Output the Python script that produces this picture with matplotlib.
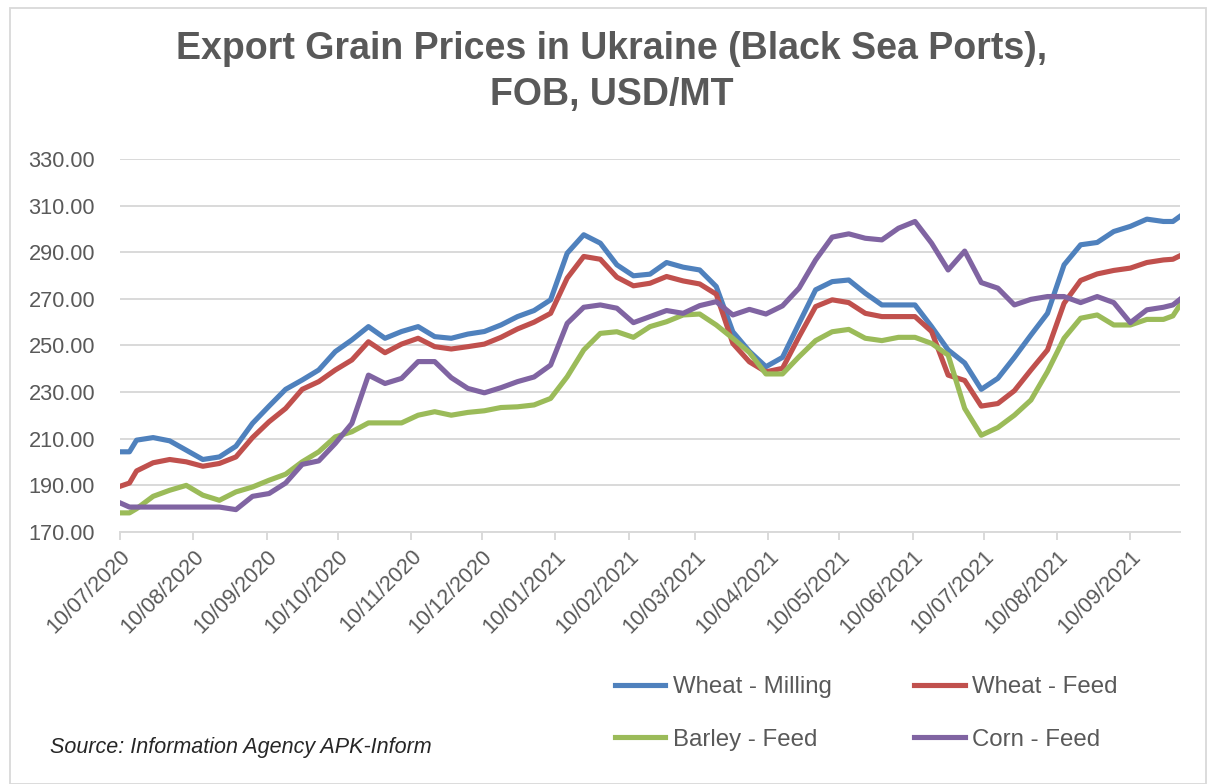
import pandas as pd
import numpy as np
import matplotlib
matplotlib.use('Agg')
import matplotlib.pyplot as plt
import matplotlib.dates as mdates
from matplotlib.patches import Rectangle

plt.rcParams['font.family'] = ['Liberation Sans', 'DejaVu Sans']

# Dates of the price quotes (weekly, plus two mid-week quotes)
dates = (['2020-07-10', '2020-07-14']
         + list(pd.date_range('2020-07-17', '2021-09-24', freq='7D').strftime('%Y-%m-%d'))
         + ['2021-09-28', '2021-10-01'])
dates = pd.to_datetime(dates)

wheat_milling = [204.4, 204.4,
                 209.4, 210.5, 209.1, 205.1, 201.1, 202.2, 206.8, 216.6, 224.0, 231.2, 235.2, 239.5,
                 247.4, 252.4, 258.1, 253.1, 256.0, 258.1, 253.8, 253.1, 254.9, 256.0, 258.8, 262.4, 265.0,
                 269.6, 289.6, 297.5, 293.9, 284.6, 279.9, 280.6, 285.6, 283.6, 282.4, 275.3, 255.9, 247.5,
                 240.9, 244.9, 259.5, 273.9, 277.4, 278.1, 272.4, 267.4, 267.4, 267.4, 258.1, 248.1, 242.5,
                 231.2, 235.9, 244.9, 254.5, 263.8, 284.6, 293.2, 294.2, 298.9, 301.1, 304.2, 303.2,
                 303.2, 305.4]
wheat_feed = [189.6, 191.0,
              196.2, 199.7, 201.1, 200.1, 198.2, 199.4, 202.2, 210.5, 217.3, 223.0, 231.2, 234.5,
              239.5, 243.8, 251.6, 246.9, 250.6, 253.1, 249.5, 248.5, 249.5, 250.6, 253.5, 257.1, 260.0,
              263.8, 278.9, 288.2, 287.0, 279.3, 275.6, 276.7, 279.6, 277.7, 276.4, 272.0, 250.9, 243.0,
              238.7, 240.2, 253.8, 266.7, 269.6, 268.4, 263.8, 262.4, 262.4, 262.4, 256.0, 237.3, 235.0,
              224.0, 225.1, 230.6, 239.5, 248.1, 268.1, 277.9, 280.7, 282.2, 283.2, 285.6, 286.7,
              287.0, 288.5]
barley_feed = [178.2, 178.2,
               180.0, 185.3, 187.9, 190.0, 185.8, 183.6, 187.2, 189.3, 192.2, 194.8, 200.1, 204.4,
               210.8, 213.0, 216.8, 216.8, 216.8, 220.1, 221.6, 220.1, 221.3, 222.0, 223.4, 223.7, 224.5,
               227.3, 236.6, 248.1, 255.2, 255.9, 253.5, 258.1, 260.2, 263.1, 263.5, 258.8, 253.1, 247.0,
               237.8, 237.8, 245.2, 252.1, 255.9, 256.9, 253.1, 252.1, 253.5, 253.5, 250.9, 245.9, 223.0,
               211.5, 214.8, 220.1, 226.6, 238.8, 253.1, 261.7, 263.1, 258.8, 258.8, 261.2, 261.2,
               262.7, 267.4]
corn_feed = [182.5, 180.7,
             180.7, 180.7, 180.7, 180.7, 180.7, 180.7, 179.6, 185.3, 186.5, 191.0, 199.0, 200.5,
             208.0, 216.6, 237.3, 233.7, 235.9, 243.1, 243.1, 236.2, 231.6, 229.7, 231.9, 234.5, 236.5,
             241.6, 259.5, 266.4, 267.4, 266.0, 259.8, 262.4, 265.0, 263.8, 267.1, 268.8, 263.1, 265.5,
             263.5, 267.0, 274.6, 286.7, 296.5, 297.9, 296.0, 295.3, 300.3, 303.2, 293.9, 282.4, 290.5,
             277.0, 274.6, 267.4, 269.8, 271.0, 271.0, 268.4, 271.0, 268.4, 259.8, 265.3, 266.4,
             267.4, 269.8]

series = [('Wheat - Milling', wheat_milling, '#4F81BD'),
          ('Wheat - Feed', wheat_feed, '#C0504D'),
          ('Barley - Feed', barley_feed, '#9BBB59'),
          ('Corn - Feed', corn_feed, '#8064A2')]

fig = plt.figure(figsize=(12.12, 7.84), dpi=100)
ax = fig.add_axes([120/1212, 1 - 532/784, 1060/1212, 373/784])

lines = {}
for name, vals, col in series:
    lines[name], = ax.plot(dates, vals, color=col, lw=3.7, label=name, solid_joinstyle='round')

ax.set_ylim(170, 330)
ax.set_yticks(np.arange(170, 331, 20))
ax.yaxis.set_major_formatter(matplotlib.ticker.FormatStrFormatter('%.2f'))
ax.set_xlim(dates[0], dates[-1])
ax.xaxis.set_major_locator(mdates.MonthLocator(bymonthday=10))
ax.xaxis.set_major_formatter(mdates.DateFormatter('%d/%m/%Y'))

ax.grid(axis='y', color='#d9d9d9', lw=1.4)
ax.set_axisbelow(True)
for s in ['top', 'right', 'left']:
    ax.spines[s].set_visible(False)
ax.spines['bottom'].set_color('#d9d9d9')
ax.spines['bottom'].set_linewidth(1.4)
ax.tick_params(axis='y', length=0, pad=18, labelsize=15.7, labelcolor='#595959')
ax.tick_params(axis='x', length=6, width=1.4, color='#d9d9d9', pad=4,
               labelsize=15.5, labelcolor='#595959')
for lab in ax.get_xticklabels():
    lab.set_rotation(45)
    lab.set_ha('right')
    lab.set_rotation_mode('anchor')

fig.text(0.505, 1 - 72/784, 'Export Grain Prices in Ukraine (Black Sea Ports),\nFOB, USD/MT',
         ha='center', va='center', fontsize=27, fontweight='bold', color='#595959',
         linespacing=1.38)

order = ['Wheat - Milling', 'Barley - Feed', 'Wheat - Feed', 'Corn - Feed']
fig.legend([lines[n] for n in order], order, ncol=2, frameon=False,
           loc='center left', bbox_to_anchor=(603/1212, 1 - 713.5/784),
           fontsize=17.3, labelcolor='#595959', handlelength=2.1, handletextpad=0.3,
           columnspacing=3.45, labelspacing=1.25, borderpad=0)

fig.text(50/1212, 1 - 747/784, 'Source: Information Agency APK-Inform', fontsize=15.5,
         style='italic', color='#262626', va='center')

fig.patches.append(Rectangle((10/1212, 0), 1196/1212, 776/784, transform=fig.transFigure,
                             fill=False, edgecolor='#d9d9d9', lw=1.3))

fig.savefig('out.png', dpi=100)
